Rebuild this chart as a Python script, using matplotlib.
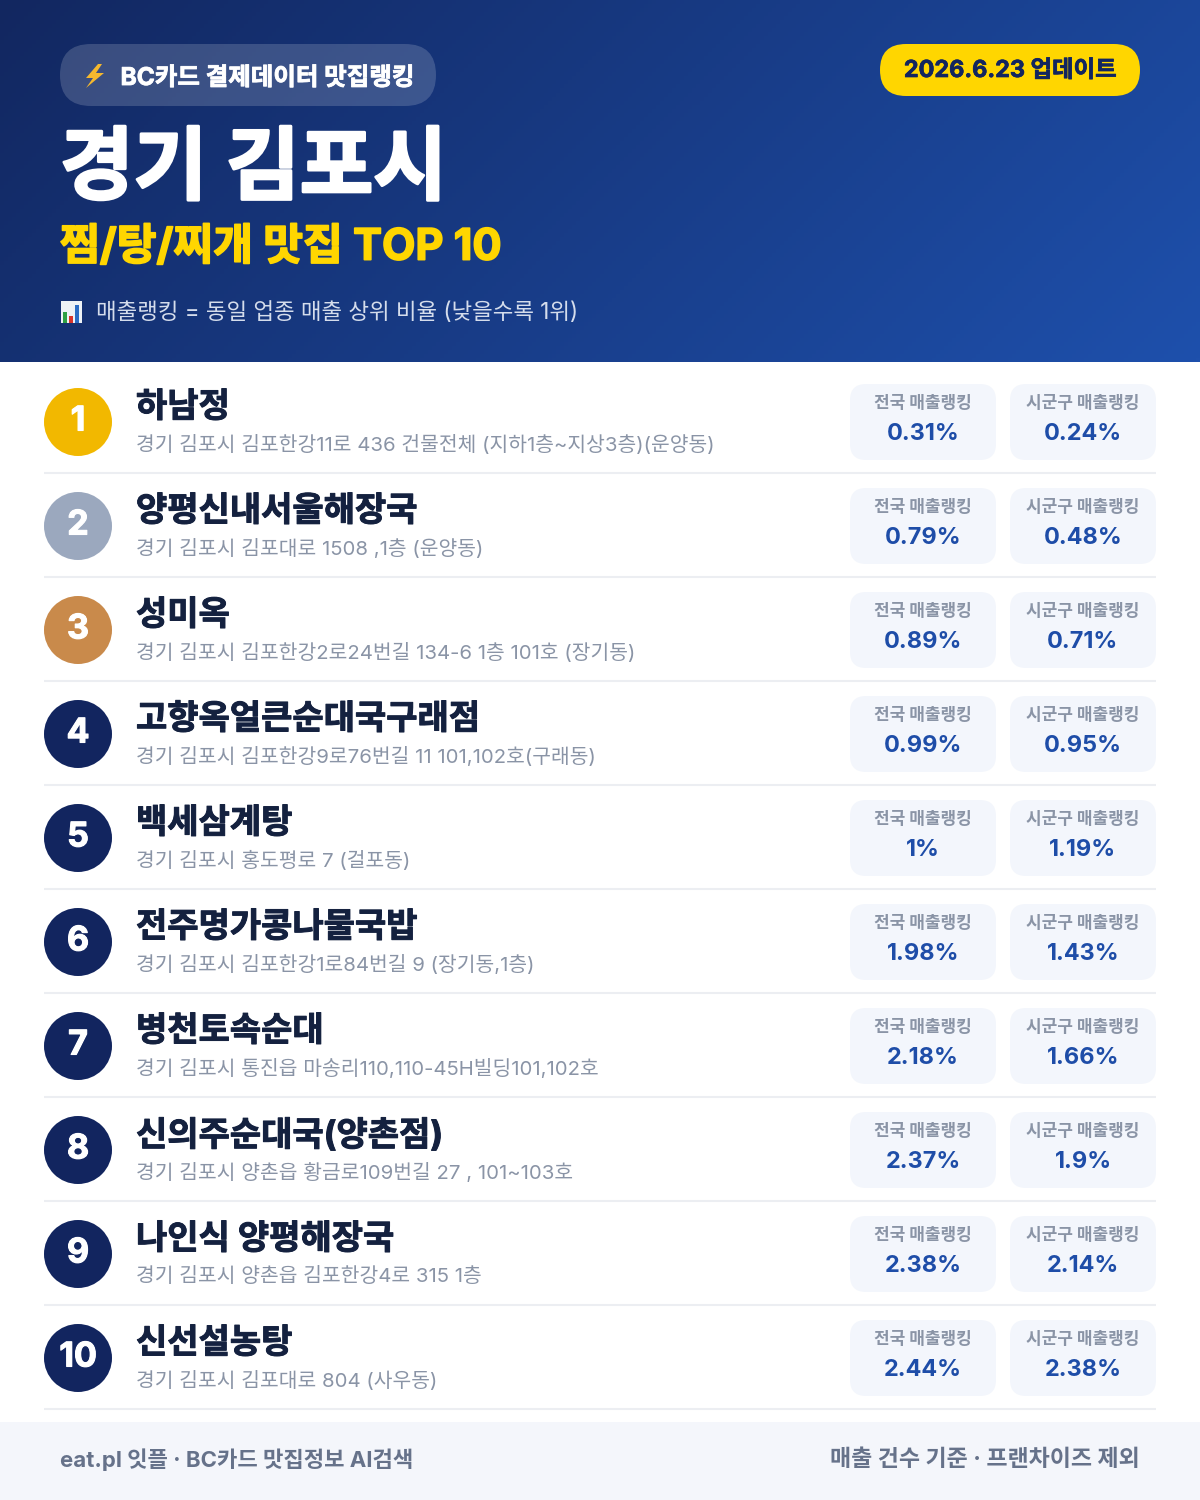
import numpy as np
import matplotlib
matplotlib.use("Agg")
import matplotlib.pyplot as plt
import matplotlib.patheffects as pe
from matplotlib.patches import FancyBboxPatch, Circle, Rectangle, Polygon

plt.rcParams['font.family'] = ['Inter', 'Noto Sans CJK KR', 'DejaVu Sans']

ranks = list(range(1, 11))
names = ["하남정", "양평신내서울해장국", "성미옥", "고향옥얼큰순대국구래점", "백세삼계탕",
         "전주명가콩나물국밥", "병천토속순대", "신의주순대국(양촌점)", "나인식 양평해장국", "신선설농탕"]
addresses = ["경기 김포시 김포한강11로 436 건물전체 (지하1층~지상3층)(운양동)",
             "경기 김포시 김포대로 1508 ,1층 (운양동)",
             "경기 김포시 김포한강2로24번길 134-6 1층 101호 (장기동)",
             "경기 김포시 김포한강9로76번길 11 101,102호(구래동)",
             "경기 김포시 홍도평로 7 (걸포동)",
             "경기 김포시 김포한강1로84번길 9 (장기동,1층)",
             "경기 김포시 통진읍 마송리110,110-45H빌딩101,102호",
             "경기 김포시 양촌읍 황금로109번길 27 , 101~103호",
             "경기 김포시 양촌읍 김포한강4로 315 1층",
             "경기 김포시 김포대로 804 (사우동)"]
national = [0.31, 0.79, 0.89, 0.99, 1, 1.98, 2.18, 2.37, 2.38, 2.44]
sigungu = [0.24, 0.48, 0.71, 0.95, 1.19, 1.43, 1.66, 1.9, 2.14, 2.38]
badge_colors = ["#F2B800", "#9BA8BE", "#C98A4B"] + ["#12255F"] * 7

NAVY = "#14213F"
BLUE = "#1E4DA8"
GREY = "#8A94A6"

def px(s):
    return s * 0.72

def heavy(w, c):
    return [pe.withStroke(linewidth=w, foreground=c)]

fig = plt.figure(figsize=(12, 15), dpi=100, facecolor="white")
ax = fig.add_axes([0, 0, 1, 1])
ax.set_xlim(0, 1200)
ax.set_ylim(1500, 0)
ax.axis("off")

# header gradient
gx, gy = np.meshgrid(np.linspace(0, 1, 300), np.linspace(0, 1, 90))
t = (gx * 1200 + gy * 362) / (1200 + 362)
c0 = np.array([0x12, 0x27, 0x60]) / 255
c1 = np.array([0x1E, 0x50, 0xAC]) / 255
grad = c0[None, None, :] * (1 - t[..., None]) + c1[None, None, :] * t[..., None]
ax.imshow(grad, extent=(0, 1200, 362, 0), aspect="auto", zorder=0)
ax.set_xlim(0, 1200)
ax.set_ylim(1500, 0)

def rbox(x0, y0, x1, y1, r, **kw):
    p = FancyBboxPatch((x0 + r, y0 + r), x1 - x0 - 2 * r, y1 - y0 - 2 * r,
                       boxstyle=f"round,pad={r},rounding_size={r}", linewidth=0, **kw)
    ax.add_patch(p)
    return p

# header
rbox(60, 44, 436, 106, 31, facecolor="white", alpha=0.17, zorder=1)
ax.add_patch(Polygon([[98, 64], [86, 78], [93, 78], [86, 88], [104, 73], [96, 73], [102, 64]],
                     closed=True, facecolor="#F5B82E", edgecolor="none", zorder=2))
ax.text(120.5, 78.5, "BC카드 결제데이터 맛집랭킹", color="white", fontsize=px(24.5), fontweight="bold",
        va="center", ha="left", zorder=3, path_effects=heavy(0.6, "white"))
rbox(880, 44, 1140, 96, 26, facecolor="#FFD600", zorder=1)
ax.text(1010, 71, "2026.6.23 업데이트", color="#12255F", fontsize=px(23.4), fontweight="bold",
        va="center", ha="center", zorder=3, path_effects=heavy(0.5, "#12255F"))
ax.text(60, 172, "경기 김포시", color="white", fontsize=px(80), fontweight="bold",
        va="center", ha="left", zorder=3, path_effects=heavy(2.0, "white"))
ax.text(60, 248, "찜/탕/찌개 맛집 TOP 10", color="#FFD600", fontsize=px(43.3), fontweight="bold",
        va="center", ha="left", zorder=3, path_effects=heavy(1.2, "#FFD600"))
# chart icon
ax.add_patch(Rectangle((61, 301), 21, 22, facecolor="#EEF2F6", edgecolor="none", zorder=2))
ax.add_patch(Rectangle((63, 312), 4, 11, facecolor="#2EA043", edgecolor="none", zorder=3))
ax.add_patch(Rectangle((69, 316), 4, 7, facecolor="#D9342B", edgecolor="none", zorder=3))
ax.add_patch(Rectangle((75, 305), 4, 18, facecolor="#2B6CC4", edgecolor="none", zorder=3))
ax.text(96, 313, "매출랭킹 = 동일 업종 매출 상위 비율 (낮을수록 1위)", color="#D5DDEC", fontsize=px(22.4),
        va="center", ha="left", zorder=3)

# rows
STEP = 104
for i, r in enumerate(ranks):
    dy = STEP * i
    ax.add_patch(Circle((78, 422 + dy), 34, facecolor=badge_colors[i], edgecolor="none", zorder=2))
    ax.text(78, 421.5 + dy, str(r), color="white", fontsize=px(34), fontweight="bold",
            ha="center", va="center", zorder=3, path_effects=heavy(0.8, "white"))
    ax.text(136, 408 + dy, names[i], color=NAVY, fontsize=px(34), fontweight="bold",
            ha="left", va="center", zorder=3, path_effects=heavy(0.7, NAVY))
    ax.text(136, 445 + dy, addresses[i], color=GREY, fontsize=px(20.35),
            ha="left", va="center", zorder=3)
    for (x0, x1, lab, val) in ((850, 996, "전국 매출랭킹", national[i]),
                               (1010, 1156, "시군구 매출랭킹", sigungu[i])):
        rbox(x0, 384 + dy, x1, 460 + dy, 16, facecolor="#F3F6FC", zorder=1)
        cx = (x0 + x1) / 2
        ax.text(cx, 403 + dy, lab, color=GREY, fontsize=px(17), fontweight="bold",
                ha="center", va="center", zorder=3)
        ax.text(cx, 434 + dy, f"{val:g}%", color=BLUE, fontsize=px(23.5), fontweight="bold",
                ha="center", va="center", zorder=3)
    ax.plot([44, 1156], [473 + dy, 473 + dy], color="#ECEEF2", lw=1.5, solid_capstyle="butt", zorder=1)

# footer
ax.add_patch(Rectangle((0, 1422), 1200, 78, facecolor="#F4F6FB", edgecolor="none", zorder=1))
ax.text(60, 1460, "eat.pl 잇플 · BC카드 맛집정보 AI검색", color="#66728A", fontsize=px(22.2), fontweight="bold",
        ha="left", va="center", zorder=3)
ax.text(1140, 1460, "매출 건수 기준 · 프랜차이즈 제외", color="#66728A", fontsize=px(23), fontweight="bold",
        ha="right", va="center", zorder=3)

fig.savefig("out.png", dpi=100)
